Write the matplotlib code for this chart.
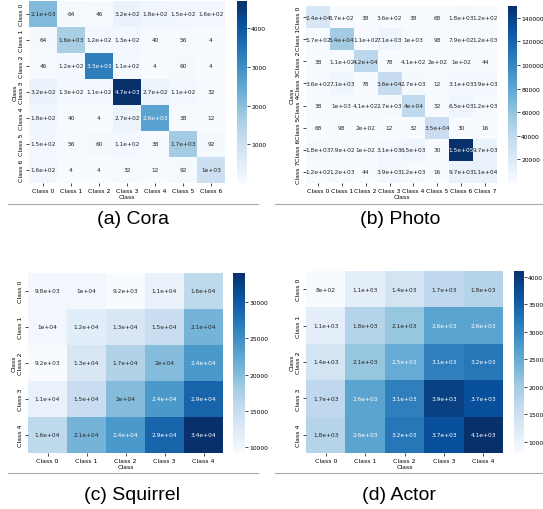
import matplotlib
matplotlib.use("Agg")
import matplotlib.pyplot as plt
import seaborn as sns
from matplotlib.lines import Line2D

W, H = 543, 510

cora = [
    [2100, 64, 46, 320, 180, 150, 160],
    [64, 1600, 120, 130, 40, 56, 4],
    [46, 120, 3300, 110, 4, 60, 4],
    [320, 130, 110, 4700, 270, 110, 32],
    [180, 40, 4, 270, 2600, 38, 12],
    [150, 56, 60, 110, 38, 1700, 92],
    [160, 4, 4, 32, 12, 92, 1000],
]
photo = [
    [24000, 570, 38, 360, 38, 68, 1800, 120],
    [570, 54000, 110, 7100, 1000, 98, 790, 1200],
    [38, 110, 42000, 78, 410, 200, 100, 44],
    [360, 7100, 78, 36000, 2700, 12, 3100, 3900],
    [38, 1000, 410, 2700, 40000, 32, 6500, 1200],
    [68, 98, 200, 12, 32, 35000, 30, 16],
    [1800, 790, 100, 3100, 6500, 30, 150000, 9700],
    [120, 1200, 44, 3900, 1200, 16, 9700, 11000],
]
squirrel = [
    [9800, 10000, 9200, 11000, 16000],
    [10000, 12000, 13000, 15000, 21000],
    [9200, 13000, 17000, 20000, 24000],
    [11000, 15000, 20000, 24000, 29000],
    [16000, 21000, 24000, 29000, 34000],
]
actor = [
    [800, 1100, 1400, 1700, 1800],
    [1100, 1800, 2100, 2600, 2600],
    [1400, 2100, 2500, 3100, 3200],
    [1700, 2600, 3100, 3900, 3700],
    [1800, 2600, 3200, 3700, 4100],
]
captions = ["(a) Cora", "(b) Photo", "(c) Squirrel", "(d) Actor"]

fig = plt.figure(figsize=(W / 100, H / 100), dpi=100)


def px_axes(x0, y0, x1, y1):
    # pixel box (top-left origin) -> figure axes
    return fig.add_axes([x0 / W, 1 - y1 / H, (x1 - x0) / W, (y1 - y0) / H])


# heatmap box, colorbar box, caption centre, grey line (x0, x1, y)
panels = [
    (cora, (29, 2, 225, 184), (237, 2, 247, 184), (133, 219), (8, 258, 205)),
    (photo, (306, 7, 497, 184), (508, 7, 517, 184), (400, 219), (275, 543, 205)),
    (squirrel, (28, 274, 223, 454), (233, 274, 245, 454), (132, 496), (8, 258, 474)),
    (actor, (306, 272, 503, 454), (514, 272, 524, 454), (399, 496), (275, 543, 474)),
]

for (data, hbox, cbox, cap, line), title in zip(panels, captions):
    ax = px_axes(*hbox)
    cax = px_axes(*cbox)
    labels = ["Class %d" % i for i in range(len(data))]
    sns.heatmap(data, annot=True, cmap="Blues", ax=ax, cbar_ax=cax,
                xticklabels=labels, yticklabels=labels,
                annot_kws={"size": 4.2})
    ax.tick_params(labelsize=4.5, length=2, width=0.5, pad=1.5)
    ax.set_yticklabels(labels, rotation=90, va="center")
    ax.set_xticklabels(labels, rotation=0)
    ax.set_xlabel("Class", fontsize=4.5, labelpad=1)
    ax.set_ylabel("Class", fontsize=4.5, labelpad=1)
    cax.tick_params(labelsize=4.3, length=2, width=0.5, pad=1)
    ax.collections[0].colorbar.outline.set_visible(False)
    fig.text(cap[0] / W, 1 - cap[1] / H, title, fontsize=14,
             family="Liberation Sans", ha="center", va="center")
    fig.add_artist(Line2D([line[0] / W, line[1] / W], [1 - line[2] / H] * 2,
                          color="#aaaaaa", lw=0.8))

fig.savefig("out.png", dpi=100)
